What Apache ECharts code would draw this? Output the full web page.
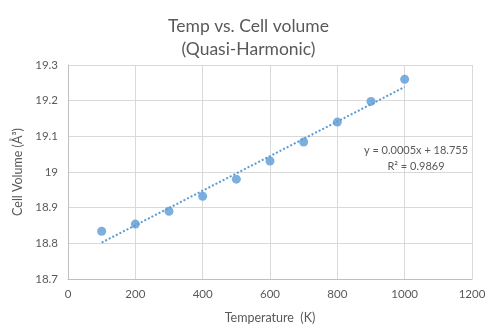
<!DOCTYPE html>
<html>
<head>
<meta charset="utf-8">
<script src="https://cdn.jsdelivr.net/npm/echarts@6/dist/echarts.min.js"></script>
<style>
html,body{margin:0;padding:0;background:#fff;}
#chart{width:497px;height:336px;}
</style>
</head>
<body>
<div id="chart"></div>
<script>
// Data
const temperatures = [100, 200, 300, 400, 500, 600, 700, 800, 900, 1000];
const cellVolumes = [18.834, 18.854, 18.890, 18.932, 18.980, 19.031, 19.084, 19.140, 19.198, 19.260];
const titleLines = ['Temp vs. Cell volume', '(Quasi-Harmonic)'];
const xAxisTitle = 'Temperature  (K)';
const yAxisTitle = 'Cell Volume (Å³)';
const trendLabel = ['y = 0.0005x + 18.755', 'R² = 0.9869'];

// least-squares linear trendline from the data
const n = temperatures.length;
const mx = temperatures.reduce((a, b) => a + b, 0) / n;
const my = cellVolumes.reduce((a, b) => a + b, 0) / n;
let sxy = 0, sxx = 0;
for (let i = 0; i < n; i++) {
  sxy += (temperatures[i] - mx) * (cellVolumes[i] - my);
  sxx += (temperatures[i] - mx) * (temperatures[i] - mx);
}
const slope = sxy / sxx;
const intercept = my - slope * mx;
const xFirst = temperatures[0], xLast = temperatures[n - 1];
const trendData = [[xFirst, intercept + slope * xFirst], [xLast, intercept + slope * xLast]];

const FONT = 'Lato';
const TXT = '#595959';

const chart = echarts.init(document.getElementById('chart'), null, {renderer: 'canvas'});
chart.setOption({
  backgroundColor: '#fff',
  animation: false,
  title: {
    text: titleLines.join('\n'),
    left: 'center',
    top: 10,
    textStyle: {fontFamily: FONT, fontSize: 17.5, fontWeight: 'normal', color: TXT, lineHeight: 23}
  },
  grid: {left: 68, right: 25, top: 65, bottom: 57, containLabel: false},
  xAxis: {
    type: 'value',
    min: 0, max: 1200, interval: 200,
    name: xAxisTitle,
    nameLocation: 'middle',
    nameGap: 32,
    nameTextStyle: {fontFamily: FONT, fontSize: 12.5, color: TXT},
    axisLine: {show: true, lineStyle: {color: '#bfbfbf', width: 1}},
    axisTick: {show: false},
    axisLabel: {fontFamily: FONT, fontSize: 11.5, color: TXT, margin: 9, formatter: v => String(v)},
    splitLine: {show: true, lineStyle: {color: '#d9d9d9', width: 1}}
  },
  yAxis: {
    type: 'value',
    min: 18.7, max: 19.3, interval: 0.1,
    name: yAxisTitle,
    nameLocation: 'middle',
    nameGap: 38,
    nameTextStyle: {fontFamily: FONT, fontSize: 12.5, color: TXT},
    axisLine: {show: true, lineStyle: {color: '#bfbfbf', width: 1}},
    axisTick: {show: false},
    axisLabel: {
      fontFamily: FONT, fontSize: 11.5, color: TXT, margin: 10,
      formatter: v => String(parseFloat(v.toFixed(1)))
    },
    splitLine: {show: true, lineStyle: {color: '#d9d9d9', width: 1}}
  },
  series: [
    {
      name: 'Trend',
      type: 'line',
      data: trendData,
      symbol: 'none',
      lineStyle: {color: '#5b9bd5', width: 2, type: [2, 2]},
      z: 2,
      silent: true
    },
    {
      name: 'Cell volume',
      type: 'scatter',
      data: temperatures.map((t, i) => [t, cellVolumes[i]]),
      symbol: 'circle',
      symbolSize: 9,
      itemStyle: {color: '#5b9bd5'},
      z: 3
    }
  ],
  graphic: [
    {
      type: 'text',
      x: 416, y: 143,
      z: 10,
      style: {
        text: trendLabel.join('\n'),
        fontFamily: FONT, fontSize: 11, fill: TXT,
        align: 'center', verticalAlign: 'top', lineHeight: 15.5
      }
    }
  ]
});
</script>
</body>
</html>
